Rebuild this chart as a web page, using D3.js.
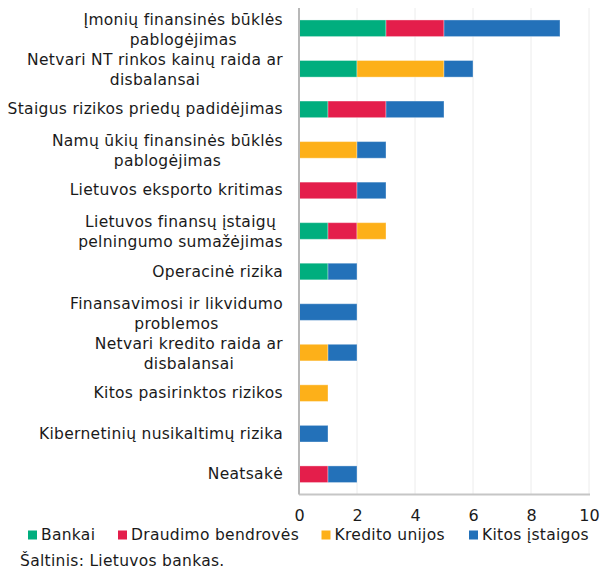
<!DOCTYPE html>
<html>
<head>
<meta charset="utf-8">
<script src="https://cdn.jsdelivr.net/npm/d3@7"></script>
<style>
  body { margin: 0; background: #fff; }
  svg { font-family: "DejaVu Sans", Verdana, sans-serif; }
</style>
</head>
<body>
<div id="chart"></div>
<script>
// categories, top to bottom (each inner array = text lines)
var categories = [
    ["Įmonių finansinės būklės", "pablogėjimas"],
    ["Netvari NT rinkos kainų raida ar", "disbalansai"],
    ["Staigus rizikos priedų padidėjimas"],
    ["Namų ūkių finansinės būklės", "pablogėjimas"],
    ["Lietuvos eksporto kritimas"],
    ["Lietuvos finansų įstaigų ", "pelningumo sumažėjimas"],
    ["Operacinė rizika"],
    ["Finansavimosi ir likvidumo", "problemos"],
    ["Netvari kredito raida ar", "disbalansai"],
    ["Kitos pasirinktos rizikos"],
    ["Kibernetinių nusikaltimų rizika"],
    ["Neatsakė"]
];
var seriesNames = ["Bankai", "Draudimo bendrovės", "Kredito unijos", "Kitos įstaigos"];
var seriesColors = ["#00ae7e", "#e41e4b", "#fdb019", "#2371b9"];

var bankai    = [3, 2, 1, 0, 0, 1, 1, 0, 0, 0, 0, 0];
var draudimo  = [2, 0, 2, 0, 2, 1, 0, 0, 0, 0, 0, 1];
var kredito   = [0, 3, 0, 2, 0, 1, 0, 0, 1, 1, 0, 0];
var kitos     = [4, 1, 2, 1, 1, 0, 1, 2, 1, 0, 1, 1];

var xTicks = [0, 2, 4, 6, 8, 10];
var source = "Šaltinis: Lietuvos bankas.";

var width = 601, height = 571;
var margin = {left: 299, right: 12, top: 8, bottom: 78};
var fontSize = 15.5;
var spacing = "0.3px";
var textColor = "#1a1a1a";

var svg = d3.select("#chart").append("svg")
    .attr("width", width)
    .attr("height", height);

var x = d3.scaleLinear()
    .domain([0, 10])
    .range([margin.left, 589]);

var y = d3.scaleBand()
    .domain(d3.range(categories.length))
    .range([margin.top, height - margin.bottom + 1.5])
    .paddingInner(0.59)
    .paddingOuter(0.295);

// grid lines
svg.append("g")
    .selectAll("line")
    .data(xTicks.slice(1))
    .enter().append("line")
    .attr("x1", function(d) { return x(d); })
    .attr("x2", function(d) { return x(d); })
    .attr("y1", margin.top)
    .attr("y2", height - margin.bottom + 1.5)
    .attr("stroke", "#ececec")
    .attr("stroke-width", 1);

// stacked data
var rows = categories.map(function(c, i) {
    return {i: i, s0: bankai[i], s1: draudimo[i], s2: kredito[i], s3: kitos[i]};
});
var stack = d3.stack().keys(["s0", "s1", "s2", "s3"]);
var layers = stack(rows);

svg.append("g")
    .selectAll("g")
    .data(layers)
    .enter().append("g")
    .attr("fill", function(d, i) { return seriesColors[i]; })
    .selectAll("rect")
    .data(function(d) { return d.filter(function(p) { return p[1] > p[0]; }); })
    .enter().append("rect")
    .attr("x", function(d) { return x(d[0]); })
    .attr("width", function(d) { return x(d[1]) - x(d[0]); })
    .attr("y", function(d) { return y(d.data.i); })
    .attr("height", y.bandwidth())
    .attr("stroke", "rgba(255,255,255,0.35)")
    .attr("stroke-width", 1);

// axis lines
var bottomY = height - margin.bottom + 1.5;
svg.append("line")
    .attr("x1", x(0)).attr("x2", x(10) + 1)
    .attr("y1", bottomY).attr("y2", bottomY)
    .attr("stroke", "#c6c6c6").attr("stroke-width", 2);
svg.append("line")
    .attr("x1", x(0)).attr("x2", x(0))
    .attr("y1", margin.top).attr("y2", bottomY)
    .attr("stroke", "#b8b8b8").attr("stroke-width", 2);

// x axis tick labels
var xAxis = d3.axisBottom(x)
    .tickValues(xTicks)
    .tickSize(0)
    .tickPadding(0)
    .tickFormat(d3.format("d"));
var gx = svg.append("g")
    .attr("transform", "translate(0," + 510 + ")")
    .call(xAxis);
gx.select(".domain").remove();
gx.selectAll("text")
    .attr("font-size", 16)
    .attr("font-family", "DejaVu Sans, Verdana, sans-serif")
    .attr("fill", textColor);

// category labels: right aligned block, lines centred within block
var labelRight = 283;
var lineH = 20;
categories.forEach(function(lines, i) {
    var g = svg.append("g");
    var texts = lines.map(function(l) {
        return g.append("text")
            .attr("font-size", fontSize)
            .attr("letter-spacing", spacing)
            .attr("fill", textColor)
            .attr("text-anchor", "middle")
            .attr("dominant-baseline", "central")
            .text(l);
    });
    var maxW = d3.max(texts, function(t) { return t.node().getComputedTextLength(); });
    var cx = labelRight - maxW / 2;
    var cy = y(i) + y.bandwidth() / 2 + (lines.length > 1 ? 1.5 : 0);
    texts.forEach(function(t, k) {
        t.attr("x", cx)
         .attr("y", cy + (k - (lines.length - 1) / 2) * lineH);
    });
});

// legend
var legendX = [28, 118, 321.5, 469];
var legend = svg.append("g")
    .selectAll("g")
    .data(seriesNames)
    .enter().append("g")
    .attr("transform", function(d, i) { return "translate(" + legendX[i] + ",535)"; });
legend.append("rect")
    .attr("x", 0).attr("y", -4.5)
    .attr("width", 9).attr("height", 9)
    .attr("fill", function(d, i) { return seriesColors[i]; });
legend.append("text")
    .attr("x", 13)
    .attr("y", 0)
    .attr("dominant-baseline", "central")
    .attr("font-size", fontSize)
    .attr("letter-spacing", spacing)
    .attr("fill", textColor)
    .text(function(d) { return d; });

// source
svg.append("text")
    .attr("x", 20)
    .attr("y", 561)
    .attr("dominant-baseline", "central")
    .attr("font-size", fontSize)
    .attr("letter-spacing", spacing)
    .attr("fill", textColor)
    .text(source);
</script>
</body>
</html>
